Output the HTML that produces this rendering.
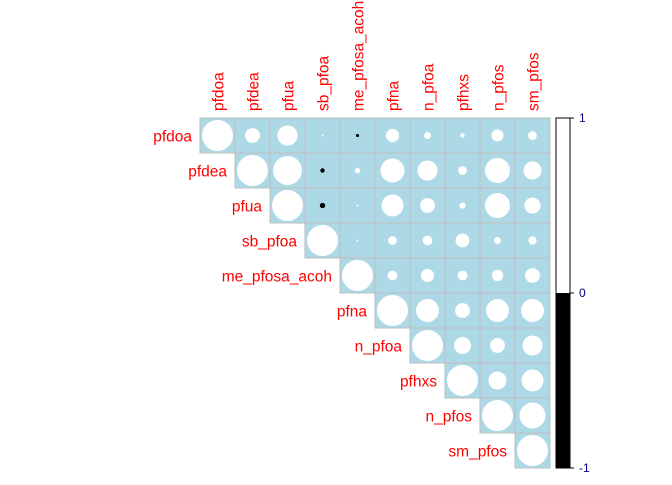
<!DOCTYPE html>
<html><head><meta charset="utf-8"><style>body{margin:0;background:#fff}svg text{font-family:"Liberation Sans",sans-serif}</style></head>
<body>
<svg id="c" width="672" height="480"></svg>
<script>
const labels=["pfdoa","pfdea","pfua","sb_pfoa","me_pfosa_acoh","pfna","n_pfoa","pfhxs","n_pfos","sm_pfos"];
const row0=[1,0.23,0.42,0.004,-0.01,0.18,0.05,0.02,0.15,0.08];
const row1=[1,0.87,-0.02,0.03,0.6,0.42,0.08,0.65,0.34];
const row2=[1,-0.03,0.004,0.5,0.23,0.04,0.65,0.27];
const row3=[1,0.004,0.08,0.1,0.2,0.05,0.07];
const row4=[1,0.1,0.18,0.1,0.13,0.23];
const row5=[1,0.55,0.23,0.55,0.55];
const row6=[1,0.3,0.23,0.42];
const row7=[1,0.34,0.5];
const row8=[1,0.7];
const row9=[1];
const rows=[row0,row1,row2,row3,row4,row5,row6,row7,row8,row9];
const colorTicks=[1,0,-1];
const NS="http://www.w3.org/2000/svg",svg=document.getElementById('c');
const X0=200,Y0=118,S=35,R=15.5;
const cx=j=>X0+S*j, cy=i=>Y0+S*i;
function mk(t,a){const e=document.createElementNS(NS,t);for(const k in a)e.setAttribute(k,a[k]);svg.appendChild(e);return e;}
rows.forEach((r,i)=>r.forEach((v,k)=>{const j=i+k;
 const rc=mk('rect',{x:cx(j),y:cy(i),width:S,height:S,fill:'#add8e6',stroke:'#bebebe','stroke-width':1});
 
 
 const c=mk('circle',{cx:cx(j)+S/2,cy:cy(i)+S/2,r:Math.max(0.8,R*Math.sqrt(Math.abs(v))),fill:v>=0?'#fff':'#000'});
 
 
}));
labels.forEach((l,i)=>{
 const t=mk('text',{x:cx(i)-8,y:cy(i)+S/2+6,'text-anchor':'end','font-size':15.5,fill:'#ff0000'});t.textContent=l;
 
 
 const x=cx(i)+S/2+6,y=Y0-7;
 const u=mk('text',{x:x,y:y,transform:`rotate(-90 ${x} ${y})`,'font-size':15.5,fill:'#ff0000'});u.textContent=l;
 
 
});
const BX=556,BW=14,BT=118,BB=468;
const yb=v=>BT+(1-v)/2*(BB-BT);
const w=mk('rect',{x:BX,y:yb(1),width:BW,height:yb(0)-yb(1),fill:'#fff'});

const b=mk('rect',{x:BX,y:yb(0),width:BW,height:yb(-1)-yb(0),fill:'#000'});

mk('rect',{x:BX,y:BT,width:BW,height:BB-BT,fill:'none',stroke:'#000','stroke-width':1});
colorTicks.forEach(v=>{mk('line',{x1:BX+BW,x2:BX+BW+4,y1:yb(v),y2:yb(v),stroke:'#000'});
 const t=mk('text',{x:BX+BW+9,y:yb(v)+4,'font-size':12,fill:'#000080'});t.textContent=v;
 
 });
</script>
</body></html>
